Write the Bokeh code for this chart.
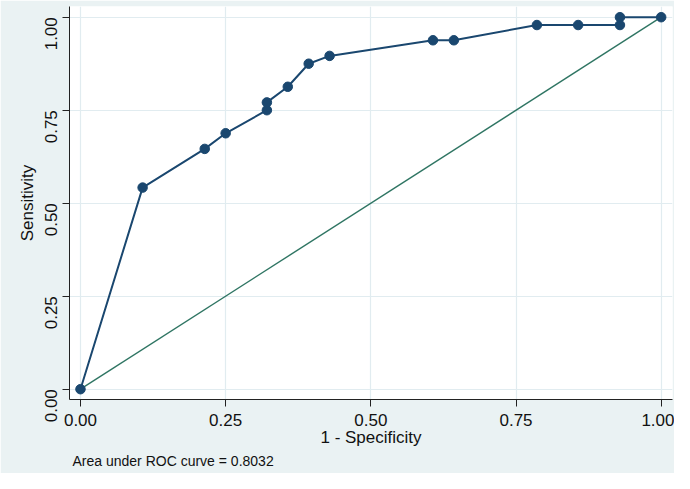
from bokeh.plotting import figure
from bokeh.models import Range1d, FixedTicker, Title, CustomJSTickFormatter
from bokeh.embed import file_html
from bokeh.resources import INLINE
import math

# ROC curve points (1 - specificity, sensitivity)
fpr = [0.0, 0.107, 0.214, 0.250, 0.321, 0.321, 0.357, 0.393, 0.429,
       0.607, 0.643, 0.786, 0.857, 0.929, 0.929, 1.0]
tpr = [0.0, 0.542, 0.646, 0.688, 0.750, 0.771, 0.813, 0.875, 0.896,
       0.938, 0.938, 0.979, 0.979, 0.979, 1.0, 1.0]
ref_x = [0.0, 1.0]
ref_y = [0.0, 1.0]
ticks = [0.0, 0.25, 0.5, 0.75, 1.0]
auc_text = "Area under ROC curve = 0.8032"

BG = "#EAF2F3"
NAVY = "#1A476F"
GREEN = "#2F7563"
FONT = "Liberation Sans"

p = figure(width=674, height=473, output_backend="svg", toolbar_location=None,
           x_range=Range1d(-0.0189, 1.0195), y_range=Range1d(-0.0277, 1.0288),
           background_fill_color="white", border_fill_color=BG,
           min_border_left=69, min_border_right=2, min_border_top=6,
           min_border_bottom=74, outline_line_color=None)

p.line(ref_x, ref_y, line_color=GREEN, line_width=1.4)
p.line(fpr, tpr, line_color=NAVY, line_width=2)
p.scatter(fpr, tpr, size=9.5, fill_color=NAVY, line_color=NAVY)

fmt = CustomJSTickFormatter(code="return tick.toFixed(2);")
for ax in (p.xaxis[0], p.yaxis[0]):
    ax.ticker = FixedTicker(ticks=ticks)
    ax.formatter = fmt
    ax.major_tick_out = 7
    ax.major_tick_in = 0
    ax.minor_tick_out = 0
    ax.minor_tick_in = 0
    ax.axis_line_color = "#222222"
    ax.major_tick_line_color = "#222222"
    ax.major_label_text_font = FONT
    ax.major_label_text_font_size = "17px"
    ax.major_label_text_color = "#111111"
    ax.axis_label_text_font = FONT
    ax.axis_label_text_font_size = "17px"
    ax.axis_label_text_font_style = "normal"
    ax.axis_label_text_color = "#111111"

p.xaxis.axis_label = "1 - Specificity"
p.xaxis.major_label_standoff = 7
p.xaxis.axis_label_standoff = -1
p.yaxis.axis_label = "Sensitivity"
p.yaxis.major_label_orientation = math.pi / 2
p.yaxis.major_label_standoff = 11
p.yaxis.axis_label_standoff = 0

for g in (p.xgrid[0], p.ygrid[0]):
    g.ticker = FixedTicker(ticks=ticks)
    g.grid_line_color = "#E1ECF0"
    g.grid_line_width = 1.2

p.add_layout(Title(text=auc_text, align="left", offset=3, text_font=FONT,
                   text_font_size="14px", text_font_style="normal",
                   text_color="#111111", standoff=2), "below")

open("out.html", "w").write(file_html(p, INLINE))
